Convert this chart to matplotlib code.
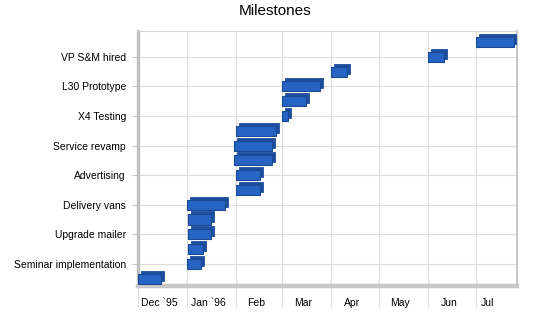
import matplotlib
matplotlib.use('Agg')
from matplotlib import pyplot as plt
import matplotlib.dates as mdates
import matplotlib.transforms as mtransforms
import numpy as np

plt.rcParams['font.family'] = ['Liberation Sans', 'DejaVu Sans']

# Milestones, bottom to top (only every other row is labelled in the chart)
milestones = ['', 'Seminar implementation', '', 'Upgrade mailer', '', 'Delivery vans',
              '', 'Advertising', '', 'Service revamp', '', 'X4 Testing', '',
              'L30 Prototype', '', 'VP S&M hired', '']
start_dates = ['1995-12-01', '1996-01-01', '1996-01-02', '1996-01-02', '1996-01-02',
               '1996-01-01', '1996-02-01', '1996-02-01', '1996-01-31', '1996-01-31',
               '1996-02-01', '1996-03-01', '1996-03-01', '1996-03-01', '1996-04-01',
               '1996-06-01', '1996-07-01']
end_dates = ['1995-12-16', '1996-01-10', '1996-01-11', '1996-01-16', '1996-01-16',
             '1996-01-25', '1996-02-16', '1996-02-16', '1996-02-24', '1996-02-24',
             '1996-02-26', '1996-03-05', '1996-03-16', '1996-03-25', '1996-04-11',
             '1996-06-11', '1996-07-25']
month_starts = ['1995-12-01', '1996-01-01', '1996-02-01', '1996-03-01', '1996-04-01',
                '1996-05-01', '1996-06-01', '1996-07-01']
month_labels = ['Dec `95', 'Jan `96', 'Feb', 'Mar', 'Apr', 'May', 'Jun', 'Jul']
axis_end = '1996-07-27'

start = mdates.datestr2num(start_dates)
end = mdates.datestr2num(end_dates)
rows = np.arange(len(milestones))

fig = plt.figure(figsize=(5.5, 3.18), dpi=100)
ax = fig.add_axes([137.5 / 550, 1 - 286 / 318, (517 - 137.5) / 550, (286 - 31) / 318])

# 3d look: darker copy shifted up/right behind the front face
shift = ax.transData + mtransforms.ScaledTranslation(3 / 100, 3 / 100, fig.dpi_scale_trans)
ax.barh(rows, end - start, left=start, height=0.68, color='#1d4f9e',
        edgecolor='#1d4f9e', linewidth=0.6, transform=shift, zorder=3)
ax.barh(rows, end - start, left=start, height=0.68, color='#2663c3',
        edgecolor='#1a4a94', linewidth=0.8, zorder=4)

ms = mdates.datestr2num(month_starts)
xend = mdates.datestr2num(axis_end)
ax.set_xlim(ms[0], xend)
ax.set_ylim(-0.5, 16.75)

# month gridlines + long separator ticks, labels in between
ax.set_xticks(ms)
ax.set_xticklabels([''] * len(ms))
ax.tick_params(axis='x', which='major', length=16, color='#e0e0e0', width=0.8)
mids = [(ms[i] + ms[i + 1]) / 2 for i in range(len(ms) - 1)] + [ms[-1] + 9]
ax.set_xticks(mids, minor=True)
ax.set_xticklabels(month_labels, minor=True, fontsize=7.5)
ax.tick_params(axis='x', which='minor', length=0, pad=9)
for lab in ax.get_xticklabels(minor=True):
    lab.set_transform(lab.get_transform() +
                      mtransforms.ScaledTranslation(-3 / 100, 0, fig.dpi_scale_trans))

labelled = [i for i, m in enumerate(milestones) if m]
ax.set_yticks(labelled)
ax.set_yticklabels([milestones[i] for i in labelled], fontsize=7.5)
ax.tick_params(axis='y', length=4.3, color='#c8c8c8', width=0.8, pad=4)

ax.grid(True, color='#dcdcdc', linewidth=0.8, zorder=0)
ax.set_axisbelow(True)

ax.spines['left'].set_color('#c0c0c0')
ax.spines['left'].set_linewidth(2.4)
ax.spines['bottom'].set_color('#c8c8c8')
ax.spines['bottom'].set_linewidth(3.2)
ax.spines['top'].set_color('#d4d4d4')
ax.spines['top'].set_linewidth(0.8)
ax.spines['right'].set_color('#bcbcbc')
ax.spines['right'].set_linewidth(1.2)

fig.suptitle('Milestones', x=0.5, y=1 - 4 / 318, va='top', fontsize=11)

fig.savefig('out.png', dpi=100)
